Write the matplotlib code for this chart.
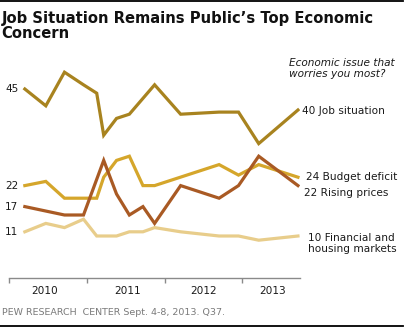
import matplotlib
matplotlib.use("Agg")
import matplotlib.pyplot as plt
from matplotlib.lines import Line2D

W, H = 405, 328

# ---- data (decimal years, percent) ----
job_x = [2010.20, 2010.47, 2010.71, 2010.955, 2011.125, 2011.215, 2011.38, 2011.545,
         2011.87, 2012.205, 2012.70, 2012.95, 2013.21, 2013.715]
job_y = [45, 41, 49, 46, 44, 34, 38, 39, 46, 39, 39.5, 39.5, 32, 40]

budget_x = [2010.20, 2010.47, 2010.71, 2011.125, 2011.215, 2011.38, 2011.545, 2011.72,
            2011.87, 2012.70, 2012.95, 2013.21, 2013.715]
budget_y = [22, 23, 19, 19, 24, 28, 29, 22, 22, 27, 24.5, 27, 24]

prices_x = [2010.20, 2010.71, 2010.955, 2011.215, 2011.38, 2011.545, 2011.72, 2011.87,
            2012.205, 2012.70, 2012.95, 2013.21, 2013.715]
prices_y = [17, 15, 15, 28, 20, 15, 17, 13, 22, 19, 22, 29, 22]

fin_x = [2010.20, 2010.47, 2010.71, 2010.955, 2011.125, 2011.38, 2011.545, 2011.72,
         2011.87, 2012.205, 2012.70, 2012.95, 2013.21, 2013.715]
fin_y = [11, 13, 12, 14, 10, 10, 11, 11, 12, 11, 10, 10, 9, 10]

years = [2010, 2011, 2012, 2013]
year_label_pos = [2010.46, 2011.52, 2012.50, 2013.39]
left_labels = [45, 22, 17, 11]
right_labels = ["40 Job situation", "24 Budget deficit",
                "22 Rising prices", "10 Financial and\nhousing markets"]
title_lines = ["Job Situation Remains Public\u2019s Top Economic", "Concern"]

c_job = "#A8831F"
c_budget = "#D5A62B"
c_prices = "#A95A24"
c_fin = "#E8CD8B"

fig = plt.figure(figsize=(W / 100, H / 100), dpi=100)

def fx(x):
    return x / W

def fy(y):
    return 1 - y / H

# axes: x from px 9.3 (2010) to px 300; y zero at px 278, 4.2 px per point
x_left, x_right = 9.3, 300.0
ppy = 77.7
y_zero, y_top = 278.0, 55.0
ppv = 4.2
ax = fig.add_axes([fx(x_left), fy(y_zero), (x_right - x_left) / W, (y_zero - y_top) / H])
ax.set_xlim(2010, 2010 + (x_right - x_left) / ppy)
ax.set_ylim(0, (y_zero - y_top) / ppv)
ax.patch.set_alpha(0)

lw = 2.3
ax.plot(fin_x, fin_y, color=c_fin, lw=lw, solid_joinstyle="miter", zorder=2)
ax.plot(budget_x, budget_y, color=c_budget, lw=lw, solid_joinstyle="miter", zorder=3)
ax.plot(prices_x, prices_y, color=c_prices, lw=lw, solid_joinstyle="miter", zorder=4)
ax.plot(job_x, job_y, color=c_job, lw=lw, solid_joinstyle="miter", zorder=5)

for s in ["top", "left", "right"]:
    ax.spines[s].set_visible(False)
ax.spines["bottom"].set_color("#8a8a8a")
ax.spines["bottom"].set_linewidth(1.0)
ax.set_yticks([])
ax.set_xticks(years)
ax.tick_params(axis="x", direction="out", length=3.5, width=1.0, color="#8a8a8a",
               labelbottom=False)

fs = 7.6
for yr, xp in zip(years, year_label_pos):
    ax.text(xp, -12.7 / ppv, str(yr), ha="center", va="center", fontsize=fs, color="#1a1a1a")

# left value labels
for v in left_labels:
    ax.text(2010 + (18.5 - x_left) / ppy, v, str(v), ha="right", va="center",
            fontsize=fs, color="#1a1a1a")

# right labels (pixel placed)
right_pos = [(301.5, 111), (305.5, 176.5), (304.5, 193), (308, 243.5)]
for txt, (px, py) in zip(right_labels, right_pos):
    fig.text(fx(px), fy(py), txt, ha="left", va="center", fontsize=fs, color="#1a1a1a",
             linespacing=1.15)

# question
fig.text(fx(289), fy(68.5), "Economic issue that\nworries you most?", ha="left", va="center",
         fontsize=fs, style="italic", color="#1a1a1a", linespacing=1.15)

# title
for line, base in zip(title_lines, [23.3, 38.3]):
    fig.text(fx(1.5), fy(base), line, ha="left", va="baseline", fontsize=10.6,
             fontweight="bold", color="#111111")

# source
fig.text(fx(1.5), fy(312.5), "PEW RESEARCH  CENTER Sept. 4-8, 2013. Q37.", ha="left",
         va="center", fontsize=6.8, color="#7a7a7a")

# top and bottom rules
fig.add_artist(Line2D([0, 1 - 2 / W], [fy(1), fy(1)], transform=fig.transFigure,
                      color="black", lw=1.3))
fig.add_artist(Line2D([0, 1 - 2 / W], [fy(326), fy(326)], transform=fig.transFigure,
                      color="black", lw=1.3))

fig.savefig("out.png", dpi=100)
